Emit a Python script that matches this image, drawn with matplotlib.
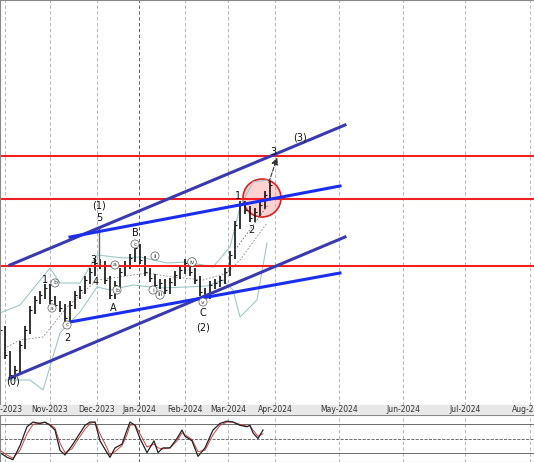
import numpy as np
import matplotlib.pyplot as plt
from matplotlib.patches import Circle

# x axis in chart units (bar positions), price in chart units
month_x = [5, 50, 97, 139, 185, 228, 275, 339, 403, 465, 530]
month_lbl = ['Oct-2023', 'Nov-2023', 'Dec-2023', 'Jan-2024', 'Feb-2024', 'Mar-2024',
             'Apr-2024', 'May-2024', 'Jun-2024', 'Jul-2024', 'Aug-2024']

bar_x = list(range(0, 275, 5))
close = [330, 355, 375, 370, 345, 330, 310, 300, 295, 288, 300, 305, 308, 318, 305, 295,
         290, 280, 272, 263, 265, 280, 295, 285, 272, 265, 258, 248, 260, 272, 278, 285,
         283, 290, 282, 275, 270, 263, 272, 280, 292, 295, 285, 283, 280, 272, 255, 225,
         205, 210, 218, 212, 205, 195, 185]
close = [405 - c for c in close]

bb_up_x = [0, 20, 50, 60, 80, 97, 123, 140, 167, 187, 213, 230, 240, 253, 267]
bb_up = [313, 305, 268, 283, 283, 255, 258, 257, 263, 262, 267, 247, 207, 182, 180]
bb_lo_x = [7, 30, 43, 60, 80, 97, 110, 133, 160, 187, 207, 223, 233, 240, 257, 267]
bb_lo = [380, 380, 390, 333, 312, 287, 290, 285, 288, 287, 286, 280, 290, 317, 300, 243]
bb_mid_x = [7, 20, 43, 67, 97, 120, 147, 173, 203, 227, 240, 267]
bb_mid = [347, 340, 337, 307, 280, 277, 273, 277, 280, 273, 260, 223]

levels = [156, 199, 266]
channels = [((10, 265), (345, 125)), ((10, 378), (345, 237))]
inner = [((70, 237), (340, 186)), ((70, 322), (340, 273))]

waves = [(13, 382, '(0)'), (45, 280, '1'), (67, 338, '2'), (93, 260, '3'), (96, 282, '4'),
         (99, 218, '5'), (99, 205, '(1)'), (113, 308, 'A'), (135, 233, 'B'), (203, 313, 'C'),
         (203, 327, '(2)'), (238, 196, '1'), (251, 230, '2'), (273, 152, '3'), (300, 138, '(3)')]
small = [(55, 283, 'b'), (52, 308, 'a'), (67, 325, 'c'), (117, 290, 'b'), (115, 265, 'a'),
         (135, 244, 'c'), (153, 290, 'i'), (155, 256, 'ii'), (160, 295, 'iii'), (192, 262, 'iv'),
         (203, 302, 'v')]

sto_x = [0, 7, 13, 20, 27, 33, 40, 45, 50, 55, 60, 65, 72, 78, 85, 90, 95, 100, 107, 110,
         115, 122, 127, 130, 135, 140, 147, 154, 158, 163, 170, 177, 182, 185, 192, 198,
         205, 213, 220, 227, 233, 240, 247, 250, 253, 258, 263]
sto_k = [20, 10, 5, 35, 75, 85, 82, 85, 78, 68, 25, 15, 35, 55, 78, 85, 85, 45, 20, 10,
         30, 38, 68, 85, 78, 50, 20, 45, 20, 30, 30, 50, 68, 55, 45, 12, 30, 68, 82, 87,
         85, 78, 75, 78, 62, 50, 68]
sto_d = [25, 15, 8, 25, 60, 80, 83, 84, 80, 72, 40, 20, 28, 48, 70, 82, 85, 60, 30, 15,
         22, 35, 58, 78, 80, 60, 32, 38, 30, 28, 30, 45, 62, 58, 48, 22, 25, 58, 78, 85,
         85, 80, 76, 77, 68, 55, 60]

fig = plt.figure(figsize=(5.34, 4.62), dpi=100)
ax = fig.add_axes([0, 57 / 462, 1, 405 / 462])
ax2 = fig.add_axes([0, 0, 1, 47 / 462])
for a in (ax, ax2):
    a.set_xlim(0, 534)
    for m, mx in enumerate(month_x):
        a.axvline(mx, color='#444' if month_lbl[m].startswith('Jan') else '#aaa',
                  ls=(0, (4, 3)), lw=0.6, zorder=0)
    a.set_yticks([])
    for s in a.spines.values():
        s.set_color('#888')
ax.set_ylim(0, 405)
ax.set_xticks([])

ax.plot(bb_up_x, [405 - v for v in bb_up], color='#9cc9c9', lw=0.8)
ax.plot(bb_lo_x, [405 - v for v in bb_lo], color='#9cc9c9', lw=0.8)
ax.plot(bb_mid_x, [405 - v for v in bb_mid], color='#888', lw=0.6, ls=(0, (2, 2)))

prev = close[0]
for x, c in zip(bar_x, close):
    lo, hi = min(prev, c) - 4, max(prev, c) + 4
    ax.vlines(x, lo, hi, color='#111', lw=1.2)
    ax.hlines(c, x, x + 1.5, color='#111', lw=0.8)
    prev = c
ax.vlines(99, 405 - 265, 405 - 228, color='#666', lw=1.0)

for lv in levels:
    ax.axhline(405 - lv, color='#f02020', lw=1.5)
for (x0, y0), (x1, y1) in channels:
    ax.plot([x0, x1], [405 - y0, 405 - y1], color='#3a3ab0', lw=2.2)
for (x0, y0), (x1, y1) in inner:
    ax.plot([x0, x1], [405 - y0, 405 - y1], color='#1a2ef0', lw=2.2)
ax.plot([235, 268], [405 - 250, 405 - 205], color='#666', lw=0.6, ls=(0, (2, 2)))
ax.add_patch(Circle((262, 405 - 198), 19, fc=(1, 0.6, 0.6, 0.45), ec='#e02020', lw=1.2))
ax.annotate('', xy=(278, 405 - 155), xytext=(268, 405 - 185),
            arrowprops=dict(arrowstyle='-|>', color='#333', lw=0.8, ls='--'))

for x, y, t in waves:
    ax.text(x, 405 - y, t, fontsize=7, ha='center', va='center', color='#111')
for x, y, t in small:
    ax.text(x, 405 - y, t, fontsize=4.5, ha='center', va='center', color='#333',
            bbox=dict(boxstyle='circle,pad=0.25', fc='white', ec='#555', lw=0.5))

ax2.set_ylim(0, 100)
ax2.set_xticks([])
for yv, st in [(80, '-'), (50, '--'), (20, '-')]:
    ax2.axhline(yv, color='#555', lw=0.6, ls=st)
ax2.plot(sto_x, sto_d, color='#d04040', lw=0.7)
ax2.plot(sto_x, sto_k, color='#222', lw=0.9)

fig.patches.append(plt.Rectangle((0, 47 / 462), 1, 10 / 462, transform=fig.transFigure,
                                 fc='#e8e8e8', ec='none'))
for mx, lb in zip(month_x, month_lbl):
    fig.text(mx / 534, 52 / 462, lb, fontsize=5.5, ha='center', va='center', color='#333')

fig.savefig('out.png', dpi=100)
